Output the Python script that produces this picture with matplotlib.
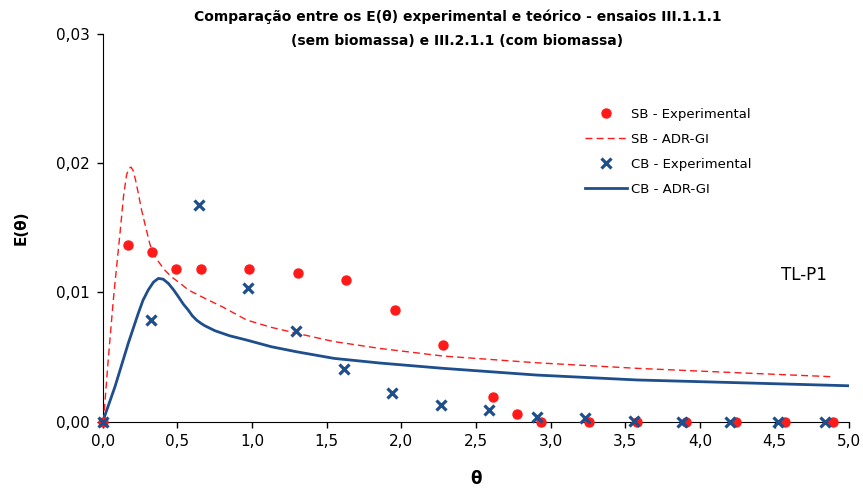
import matplotlib
matplotlib.use("Agg")
import matplotlib.pyplot as plt
from matplotlib.ticker import FuncFormatter

# SB (sem biomassa) - experimental points
sb_theta = [0.0, 0.167, 0.328, 0.491, 0.656, 0.982, 1.306, 1.630, 1.956, 2.281,
            2.612, 2.773, 2.938, 3.260, 3.580, 3.910, 4.240, 4.570, 4.890]
sb_e = [0.0, 0.01369, 0.0131, 0.01181, 0.01181, 0.01181, 0.01152, 0.01096, 0.00864,
        0.00591, 0.00189, 0.00057, 0.0, 0.0, 0.0, 0.0, 0.0, 0.0, 0.0]

# CB (com biomassa) - experimental points
cb_theta = [0.0, 0.324, 0.647, 0.973, 1.295, 1.616, 1.940, 2.264, 2.585, 2.909,
            3.232, 3.560, 3.880, 4.200, 4.520, 4.840]
cb_e = [0.0, 0.00787, 0.01676, 0.01036, 0.00701, 0.00405, 0.00224, 0.00129, 0.00088,
        0.00039, 0.00026, 0.00005, 0.0, 0.0, 0.0, 0.0]

# SB - ADR-GI model curve
sb_adr_theta = [0.0, 0.011, 0.037, 0.071, 0.082, 0.116, 0.140, 0.160, 0.175, 0.190,
                0.205, 0.220, 0.238, 0.260, 0.283, 0.317, 0.345, 0.373, 0.410, 0.462,
                0.520, 0.573, 0.685, 0.800, 0.964, 1.13, 1.30, 1.55, 1.857, 2.28,
                2.907, 3.58, 4.25, 4.89]
sb_adr_e = [0.0, 0.0009, 0.0048, 0.0094, 0.0107, 0.0146, 0.0175, 0.0191, 0.0196, 0.0197,
            0.0194, 0.0187, 0.0177, 0.0164, 0.0153, 0.0137, 0.0129, 0.0124, 0.0118, 0.0112,
            0.0107, 0.0102, 0.00954, 0.0089, 0.00787, 0.0073, 0.00684, 0.0062, 0.00567,
            0.00508, 0.00456, 0.00413, 0.00379, 0.00348]

# CB - ADR-GI model curve
cb_adr_theta = [0.0, 0.082, 0.171, 0.238, 0.270, 0.305, 0.340, 0.373, 0.405, 0.440,
                0.475, 0.507, 0.540, 0.573, 0.600, 0.630, 0.660, 0.685, 0.752, 0.850,
                0.964, 1.13, 1.30, 1.55, 1.857, 2.28, 2.907, 3.58, 4.25, 5.0]
cb_adr_e = [0.0, 0.0027, 0.00606, 0.00838, 0.0094, 0.01019, 0.0108, 0.01109, 0.01103,
            0.0107, 0.0102, 0.00967, 0.0091, 0.00864, 0.0082, 0.00785, 0.0076, 0.00742,
            0.00704, 0.00665, 0.00632, 0.0058, 0.00541, 0.0049, 0.00454, 0.00413,
            0.00361, 0.00323, 0.00302, 0.00278]

red = '#FF1A1A'
blue = '#1F4E8C'

plt.rcParams['font.family'] = 'DejaVu Sans'

fig = plt.figure(figsize=(8.63, 4.93), dpi=100)
ax = fig.add_axes([0.119, 0.1446, 0.865, 0.7864])

ax.plot(sb_theta, sb_e, 'o', color=red, markersize=6.5, label='SB - Experimental',
        clip_on=False, zorder=4)
ax.plot(sb_adr_theta, sb_adr_e, '--', color=red, linewidth=1.0, dashes=(5, 3),
        label='SB - ADR-GI', zorder=3)
ax.plot(cb_theta, cb_e, 'x', color=blue, markersize=7, markeredgewidth=2.3,
        label='CB - Experimental', clip_on=False, zorder=5)
ax.plot(cb_adr_theta, cb_adr_e, '-', color=blue, linewidth=2.0, label='CB - ADR-GI',
        zorder=3)

ax.set_xlim(0, 5)
ax.set_ylim(0, 0.03)
ax.set_xticks([i * 0.5 for i in range(11)])
ax.set_yticks([0, 0.01, 0.02, 0.03])
ax.xaxis.set_major_formatter(FuncFormatter(lambda v, p: f'{v:.1f}'.replace('.', ',')))
ax.yaxis.set_major_formatter(FuncFormatter(lambda v, p: f'{v:.2f}'.replace('.', ',')))
ax.tick_params(direction='out', length=4, width=1, labelsize=11, pad=5)
ax.spines['top'].set_visible(False)
ax.spines['right'].set_visible(False)

ax.set_xlabel('θ', fontsize=12, fontweight='bold', labelpad=15)
ax.set_ylabel('E(θ)', fontsize=11, fontweight='bold', labelpad=20)

fig.text(0.53, 0.98, 'Comparação entre os E(θ) experimental e teórico - ensaios III.1.1.1\n'
         '(sem biomassa) e III.2.1.1 (com biomassa)', ha='center', va='top',
         fontsize=10, fontweight='bold', linespacing=1.85)

ax.text(4.70, 0.01135, 'TL-P1', fontsize=12, ha='center', va='center')

ax.legend(loc='upper left', bbox_to_anchor=(0.63, 0.84), frameon=False, fontsize=9.5,
          handlelength=3.2, labelspacing=0.9, handletextpad=0.3)

fig.savefig('out.png', dpi=100)
